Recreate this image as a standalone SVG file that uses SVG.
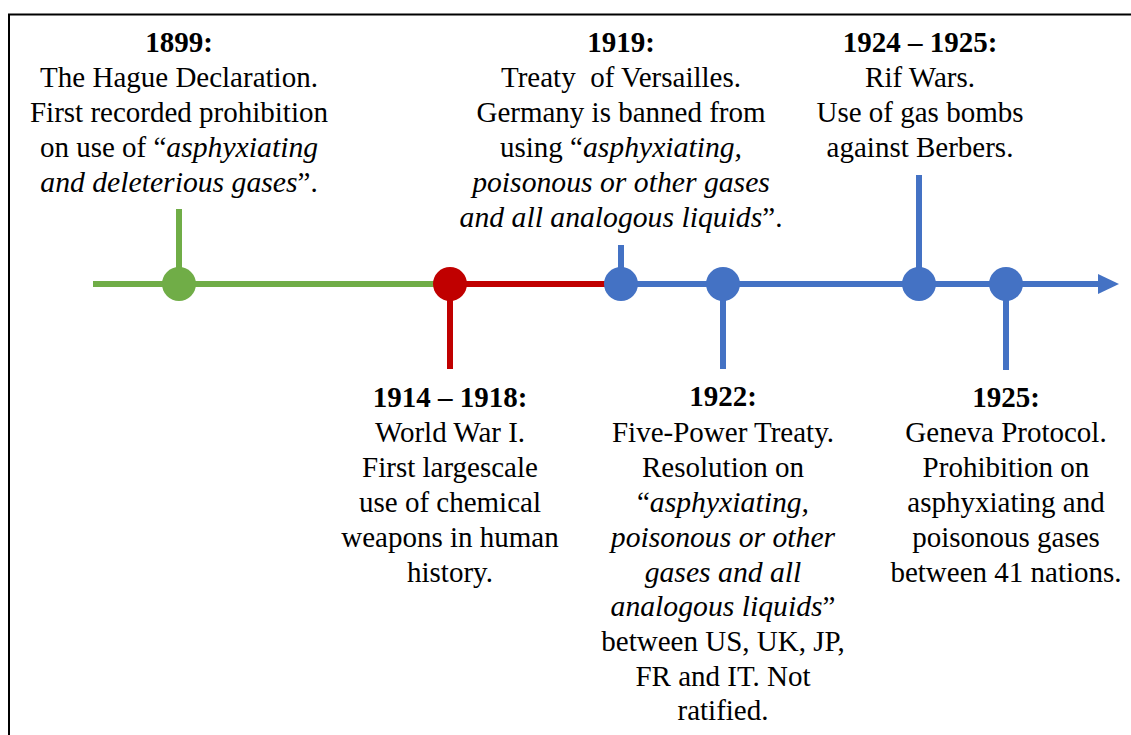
<svg xmlns="http://www.w3.org/2000/svg" width="1131" height="735" viewBox="0 0 1131 735">
<style>
.t{font-family:"Liberation Serif","Times New Roman",serif;font-size:29px;fill:#000;text-anchor:middle}
.b{font-weight:bold}
.i{font-style:italic;font-size:29.7px}
.g{stroke:#70AD47;stroke-width:6;fill:none}
.r{stroke:#C00000;stroke-width:6;fill:none}
.bl{stroke:#4472C4;stroke-width:6;fill:none}
</style>
<defs>
<marker id="ah" markerUnits="userSpaceOnUse" markerWidth="22" markerHeight="22" refX="0" refY="11" orient="auto">
<path d="M0,1 L21,11 L0,21 Z" fill="#4472C4"/>
</marker>
</defs>
<rect width="1131" height="735" fill="#fff"/>
<path d="M9,740 V14.5 H1135" fill="none" stroke="#000" stroke-width="2"/>
<g id="connectors">
<line class="g" x1="93" y1="284" x2="450" y2="284"/>
<line class="r" x1="450" y1="284" x2="621" y2="284"/>
<line class="bl" x1="621" y1="284" x2="1098" y2="284" marker-end="url(#ah)"/>
<line class="g" x1="179" y1="209" x2="179" y2="284"/>
<line class="r" x1="450" y1="284" x2="450" y2="369"/>
<line class="bl" x1="621" y1="245" x2="621" y2="284"/>
<line class="bl" x1="723" y1="284" x2="723" y2="369"/>
<line class="bl" x1="919" y1="175" x2="919" y2="284"/>
<line class="bl" x1="1006" y1="284" x2="1006" y2="370"/>
</g>
<g id="n1899">
<circle cx="179" cy="284" r="17" fill="#70AD47"/>
<text class="t"><tspan class="b" x="179" y="52">1899:</tspan><tspan x="179" y="87">The Hague Declaration.</tspan><tspan x="179" y="122">First recorded prohibition</tspan><tspan x="179" y="157">on use of “<tspan class="i">asphyxiating</tspan></tspan><tspan x="179" y="192"><tspan class="i">and deleterious gases</tspan>”.</tspan></text>
</g>
<g id="n1914">
<circle cx="450" cy="284" r="17" fill="#C00000"/>
<text class="t"><tspan class="b" x="450" y="407">1914 – 1918:</tspan><tspan x="450" y="442">World War I.</tspan><tspan x="450" y="477">First largescale</tspan><tspan x="450" y="512">use of chemical</tspan><tspan x="450" y="547">weapons in human</tspan><tspan x="450" y="582">history.</tspan></text>
</g>
<g id="n1919">
<circle cx="621" cy="284" r="17" fill="#4472C4"/>
<text class="t"><tspan class="b" x="621" y="52">1919:</tspan><tspan x="621" y="87">Treaty&#160; of Versailles.</tspan><tspan x="621" y="122">Germany is banned from</tspan><tspan x="621" y="157">using “<tspan class="i">asphyxiating,</tspan></tspan><tspan class="i" x="621" y="192">poisonous or other gases</tspan><tspan x="621" y="227"><tspan class="i">and all analogous liquids</tspan>”.</tspan></text>
</g>
<g id="n1922">
<circle cx="723" cy="284" r="17" fill="#4472C4"/>
<text class="t"><tspan class="b" x="723" y="406">1922:</tspan><tspan x="723" y="442">Five-Power Treaty.</tspan><tspan x="723" y="477">Resolution on</tspan><tspan x="723" y="512">“<tspan class="i">asphyxiating,</tspan></tspan><tspan class="i" x="723" y="547">poisonous or other</tspan><tspan class="i" x="723" y="582">gases and all</tspan><tspan x="723" y="616"><tspan class="i">analogous liquids</tspan>”</tspan><tspan x="723" y="651">between US, UK, JP,</tspan><tspan x="723" y="686">FR and IT. Not</tspan><tspan x="723" y="720">ratified.</tspan></text>
</g>
<g id="n1924">
<circle cx="919" cy="284" r="17" fill="#4472C4"/>
<text class="t"><tspan class="b" x="920" y="52">1924 – 1925:</tspan><tspan x="920" y="87">Rif Wars.</tspan><tspan x="920" y="122">Use of gas bombs</tspan><tspan x="920" y="157">against Berbers.</tspan></text>
</g>
<g id="n1925">
<circle cx="1006" cy="284" r="17" fill="#4472C4"/>
<text class="t"><tspan class="b" x="1006" y="407">1925:</tspan><tspan x="1006" y="442">Geneva Protocol.</tspan><tspan x="1006" y="477">Prohibition on</tspan><tspan x="1006" y="512">asphyxiating and</tspan><tspan x="1006" y="547">poisonous gases</tspan><tspan x="1006" y="582">between 41 nations.</tspan></text>
</g>
</svg>
